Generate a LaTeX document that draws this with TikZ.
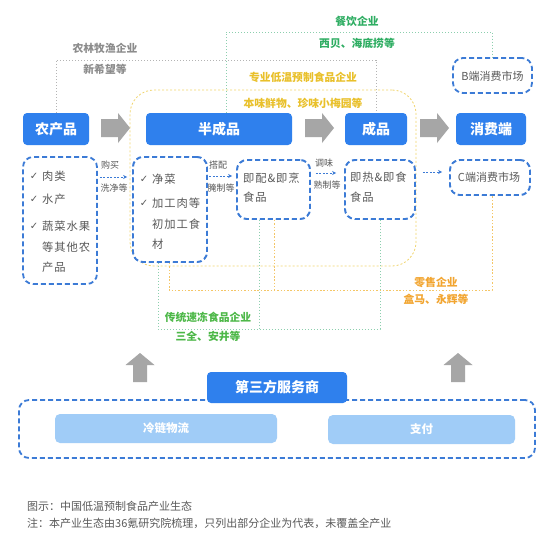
\documentclass[tikz,border=0pt]{standalone}
\usepackage{fontspec}
\setmainfont{Noto Sans CJK SC}
\newfontfamily\dejavu{DejaVu Sans}
\usetikzlibrary{arrows.meta}
\definecolor{hblue}{HTML}{2F80ED}
\definecolor{dblue}{HTML}{3C7BD6}
\definecolor{lblue}{HTML}{A0CCF7}
\definecolor{garrow}{HTML}{A6A6A6}
\definecolor{tgrey}{HTML}{595959}
\definecolor{lgrey}{HTML}{8C8C8C}
\definecolor{ldgrey}{HTML}{B4B4B4}
\definecolor{cgreen}{HTML}{2EAD62}
\definecolor{cgreen2}{HTML}{4DB848}
\definecolor{dgreen}{HTML}{8CCFAE}
\definecolor{cyellow}{HTML}{E9C02A}
\definecolor{dyellow}{HTML}{F1D56E}
\definecolor{corange}{HTML}{F2A530}
\definecolor{dorange}{HTML}{F4C667}
\begin{document}
\begin{tikzpicture}[x=1pt,y=-1pt,
  header/.style={fill=hblue, rounded corners=4pt, text=white, font=\fontsize{14}{15}\selectfont\bfseries, inner sep=0pt},
  dbox/.style={draw=dblue, line width=1.8pt, dash pattern=on 5pt off 3pt, rounded corners=10pt, fill=white, inner sep=0pt},
  lbox/.style={fill=lblue, rounded corners=5pt, text=white, font=\fontsize{11.5}{12}\selectfont\bfseries, inner sep=0pt},
  btext/.style={anchor=west, text=tgrey, inner sep=0pt, font=\fontsize{11.3}{12}\selectfont\addfontfeature{LetterSpace=8}},
  ctext/.style={text=tgrey, inner sep=0pt, font=\fontsize{11}{12}\selectfont},
  chk/.style={text=tgrey, inner sep=0pt, font=\dejavu\fontsize{10}{10}\selectfont},
  slabel/.style={text=tgrey, inner sep=0pt, font=\fontsize{9}{9}\selectfont},
  sarrow/.style={draw=dblue, line width=0.9pt, dash pattern=on 2pt off 1.5pt, -{Stealth[length=4pt,width=4pt]}},
  complabel/.style={inner sep=0pt, font=\fontsize{10.8}{12}\selectfont\bfseries},
  gdot/.style={draw=ldgrey, line width=0.8pt, dash pattern=on 1.2pt off 1.8pt},
  grdot/.style={draw=dgreen, line width=0.8pt, dash pattern=on 1.2pt off 1.8pt},
  ydot/.style={draw=dyellow, line width=0.8pt, dash pattern=on 2pt off 2pt},
  odot/.style={draw=dorange, line width=0.8pt, dash pattern=on 1.5pt off 1.8pt},
  footer/.style={anchor=west, text=tgrey, inner sep=0pt, font=\fontsize{11}{12}\selectfont},
  rarrow/.pic={\fill[garrow] (0,-9) -- (17,-9) -- (17,-15) -- (29,0) -- (17,15) -- (17,9) -- (0,9) -- cycle;},
  uarrow/.pic={\fill[garrow] (0,0) -- (14.5,12) -- (7,12) -- (7,29) -- (-7,29) -- (-7,12) -- (-14.5,12) -- cycle;}
]
\fill[white] (0,0) rectangle (554,543);
\useasboundingbox (0,0) rectangle (554,543);

% yellow region
\node[ydot, rounded corners=24pt, minimum width=286pt, minimum height=176pt, inner sep=0pt] (yr) at (273,178) {};

% headers
\node[header, minimum width=66pt, minimum height=32pt] (nc) at (56,129) {农产品};
\node[header, minimum width=146pt, minimum height=32pt] (bc) at (219,129) {半成品};
\node[header, minimum width=62pt, minimum height=32pt] (cp) at (376,129) {成品};
\node[header, minimum width=70pt, minimum height=32pt] (xf) at (491,129) {消费端};

% dashed boxes
\node[dbox, minimum width=74pt, minimum height=127pt] (L1) at (60,220.5) {};
\node[dbox, minimum width=74pt, minimum height=105pt] (L2) at (170,209.5) {};
\node[dbox, minimum width=73pt, minimum height=59pt] (L3) at (273.5,189.5) {};
\node[dbox, minimum width=70pt, minimum height=59pt] (L4) at (380,189.5) {};
\node[dbox, minimum width=80pt, minimum height=35pt] (Cm) at (490,177.5) {};
\node[dbox, minimum width=79pt, minimum height=35pt] (Bm) at (492.5,75.5) {};

% dotted connectors
\coordinate (gy) at (200,60);
\draw[gdot] (nc.north) |- (gy) -| (cp.north);
\coordinate (gx) at (226,32);
\draw[grdot] (bc.north -| gx) -- (gx) -| (Bm.north);
\coordinate (gb1) at (158,329);
\coordinate (gb2) at (259,329);
\coordinate (gb3) at (380,329);
\draw[grdot] (L2.south -| gb1) -- (gb1) -- (gb3) -- (L4.south -| gb3);
\draw[grdot] (L3.south -| gb2) -- (gb2);
\coordinate (ob1) at (169,290);
\coordinate (ob2) at (274,290);
\coordinate (ob3) at (492,290);
\draw[odot] (L2.south -| ob1) -- (ob1) -- (ob3) -- (Cm.south -| ob3);
\draw[odot] (L3.south -| ob2) -- (ob2);

% redraw boxes on top of lines
\node[dbox, minimum width=74pt, minimum height=105pt] at (170,209.5) {};
\node[dbox, minimum width=73pt, minimum height=59pt] at (273.5,189.5) {};
\node[dbox, minimum width=70pt, minimum height=59pt] at (380,189.5) {};
\node[dbox, minimum width=80pt, minimum height=35pt] at (490,177.5) {};

% company labels
\node[complabel, text=lgrey] (t1) at (105,48) {农林牧渔企业};
\node[complabel, text=lgrey] (t2) at (105,69) {新希望等};
\node[complabel, text=cgreen] (t3) at (357,21) {餐饮企业};
\node[complabel, text=cgreen] (t4) at (357,43) {西贝、海底捞等};
\node[complabel, text=cyellow] (t5) at (303,77) {专业低温预制食品企业};
\node[complabel, text=cyellow] (t6) at (303,103) {本味鲜物、珍味小梅园等};
\node[complabel, text=corange] (t7) at (436,282) {零售企业};
\node[complabel, text=corange] (t8) at (436,299) {盒马、永辉等};
\node[complabel, text=cgreen2] (t9) at (208,317) {传统速冻食品企业};
\node[complabel, text=cgreen2] (t10) at (208,336) {三全、安井等};

% box texts
\node[chk] (k1) at (34,176) {✓};
\node[btext] (p1) at (42,176) {肉类};
\node[chk] (k2) at (34,199) {✓};
\node[btext] (p2) at (42,199) {水产};
\node[chk] (k3) at (34,226) {✓};
\node[btext] (p3) at (42,226) {蔬菜水果};
\node[btext] (p4) at (42,247) {等其他农};
\node[btext] (p5) at (42,267) {产品};
\node[chk] (k4) at (144,179) {✓};
\node[btext] (q1) at (152,179) {净菜};
\node[chk] (k5) at (144,203) {✓};
\node[btext] (q2) at (152,203) {加工肉等};
\node[btext] (q3) at (152,224) {初加工食};
\node[btext] (q4) at (152,244) {材};
\node[btext] (r1) at (243,178) {即配\&即烹};
\node[btext] (r2) at (243,197) {食品};
\node[btext] (s1) at (350,177) {即热\&即食};
\node[btext] (s2) at (350,197) {食品};
\node[ctext] (cm) at (489,177) {C端消费市场};
\node[ctext] (bm) at (492.5,76) {B端消费市场};

% small arrows
\coordinate (y1) at (0,177);
\coordinate (y2) at (0,176);
\coordinate (y3) at (0,173);
\coordinate (y4) at (0,172);
\draw[sarrow, shorten <=2pt, shorten >=5pt] (L1.east |- y1) -- (L2.west |- y1);
\draw[sarrow, shorten <=1.5pt, shorten >=4pt] (L2.east |- y2) -- (L3.west |- y2);
\draw[sarrow, shorten <=5pt, shorten >=8pt] (L3.east |- y3) -- (L4.west |- y3);
\draw[sarrow, shorten <=7pt, shorten >=7pt] (L4.east |- y4) -- (Cm.west |- y4);
\node[slabel] (a1) at (110,165) {购买};
\node[slabel] (a2) at (114,188) {洗净等};
\node[slabel] (a3) at (218,165) {搭配};
\node[slabel] (a4) at (221,188) {腌制等};
\node[slabel] (a5) at (324,163) {调味};
\node[slabel] (a6) at (327,185) {熟制等};

% big grey arrows
\pic at (101,128) {rarrow};
\pic at (305,128) {rarrow};
\pic at (420,128) {rarrow};
\pic at (140,353) {uarrow};
\pic at (458,353) {uarrow};

% service providers
\node[dbox, minimum width=516pt, minimum height=58pt] (svc) at (277,429) {};
\node[header, minimum width=140pt, minimum height=31pt] (sp) at (277,387.5) {第三方服务商};
\node[lbox, minimum width=222pt, minimum height=29pt] (ll) at (166,428.5) {冷链物流};
\node[lbox, minimum width=187pt, minimum height=29pt] (zf) at (421.5,429.5) {支付};

% footer
\node[footer] (f1) at (27,506) {图示：中国低温预制食品产业生态};
\node[footer] (f2) at (27,523) {注：本产业生态由36氪研究院梳理，只列出部分企业为代表，未覆盖全产业};
\end{tikzpicture}
\end{document}
